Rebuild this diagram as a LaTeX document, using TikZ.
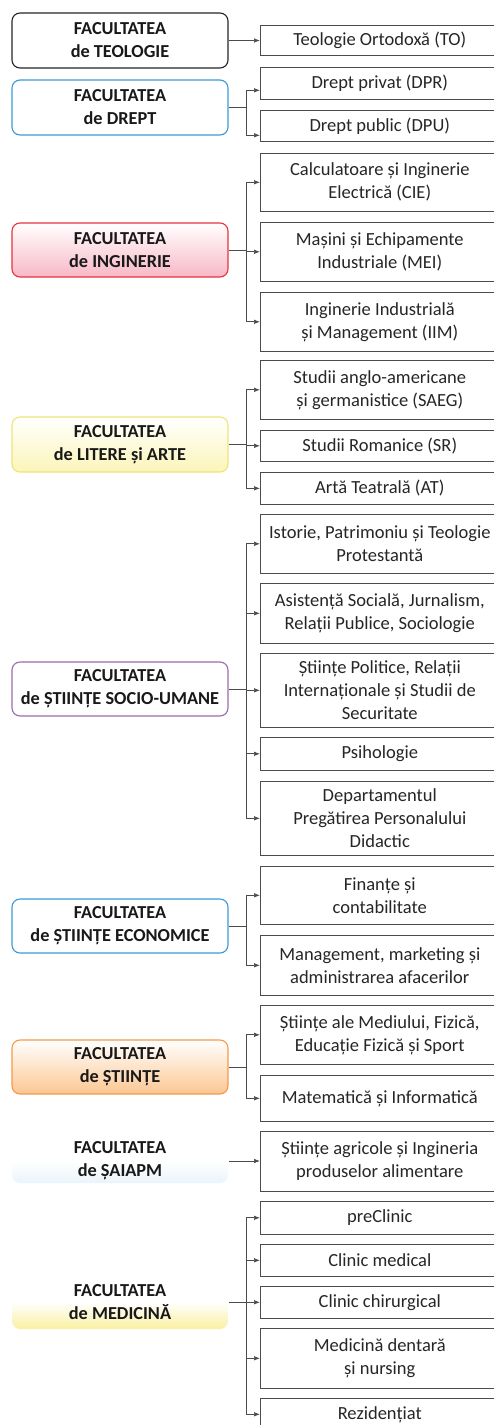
\documentclass[tikz,border=0pt]{standalone}
\usepackage{fontspec}
\setmainfont{Carlito}
\usetikzlibrary{arrows.meta}
\definecolor{cblue}{HTML}{3A9AD9}
\definecolor{cred}{HTML}{E8323C}
\definecolor{cpink}{HTML}{F7B8C6}
\definecolor{cyel}{HTML}{EEE47A}
\definecolor{cyelf}{HTML}{FBF5B8}
\definecolor{cpurp}{HTML}{9B6BB0}
\definecolor{corg}{HTML}{F39A4A}
\definecolor{corgf}{HTML}{FCC792}
\definecolor{cglow}{HTML}{EAF4FB}
\definecolor{cyglow}{HTML}{FAF0A0}
\begin{document}
\begin{tikzpicture}[x=1pt,y=-1pt,
  fac/.style={rounded corners=8pt, line width=1.1pt, minimum width=216pt,
    align=center, font=\bfseries\fontsize{18.3}{23}\selectfont, text=black!90, inner sep=0pt},
  prog/.style={draw=black!70, line width=0.6pt, anchor=north west, minimum width=239pt,
    align=center, font=\fontsize{18.5}{23}\selectfont, inner sep=0pt, text=black!85},
  conn/.style={draw=black!70, line width=0.7pt},
  arr/.style={conn, -{Latex[length=6pt,width=4.5pt]}}]
\useasboundingbox (0,0) rectangle (493,1425);
\fill[white] (0,0) rectangle (493,1425);
\coordinate (tx) at (246,0);

% ---------- faculties ----------
\node[fac, draw=black!85, minimum height=55pt] (teol) at (120,40.5) {FACULTATEA\\de TEOLOGIE};
\node[fac, draw=cblue, minimum height=55pt] (drept) at (120,107.5) {FACULTATEA\\de DREPT};
\node[fac, draw=cred, top color=white, bottom color=cpink, minimum height=54pt] (ing) at (120,250) {FACULTATEA\\de INGINERIE};
\node[fac, draw=cyel, top color=white, bottom color=cyelf, minimum height=55pt] (lit) at (120,444.5) {FACULTATEA\\de LITERE și ARTE};
\node[fac, draw=cpurp, minimum height=54pt] (soc) at (120,689) {FACULTATEA\\de ȘTIINȚE SOCIO-UMANE};
\node[fac, draw=cblue, minimum height=54pt] (eco) at (120,926) {FACULTATEA\\de ȘTIINȚE ECONOMICE};
\node[fac, draw=corg, top color=white, bottom color=corgf, minimum height=54pt] (sti) at (120,1067) {FACULTATEA\\de ȘTIINȚE};
\node[fac, top color=white, bottom color=cglow, middle color=white, minimum height=44pt] (sai) at (120,1161) {FACULTATEA\\de ȘAIAPM};
\node[fac, top color=white, bottom color=cyglow, middle color=white, minimum height=54pt] (medf) at (120,1302) {FACULTATEA\\de MEDICINĂ};

% ---------- programmes ----------
\node[prog, minimum height=30pt] (to) at (260,25) {Teologie Ortodoxă (TO)};
\node[prog, minimum height=32pt] (dpr) at (260,67) {Drept privat (DPR)};
\node[prog, minimum height=31pt] (dpu) at (260,110) {Drept public (DPU)};
\node[prog, minimum height=58pt] (cie) at (260,153) {Calculatoare și Inginerie\\Electrică (CIE)};
\node[prog, minimum height=59pt] (mei) at (260,222) {Mașini și Echipamente\\Industriale (MEI)};
\node[prog, minimum height=59pt] (iim) at (260,292) {Inginerie Industrială\\și Management (IIM)};
\node[prog, minimum height=59pt] (saeg) at (260,360) {Studii anglo-americane\\și germanistice (SAEG)};
\node[prog, minimum height=31pt] (sr) at (260,430) {Studii Romanice (SR)};
\node[prog, minimum height=32pt] (at) at (260,472) {Artă Teatrală (AT)};
\node[prog, minimum height=59pt] (ist) at (260,514) {Istorie, Patrimoniu și Teologie\\Protestantă};
\node[prog, minimum height=60pt] (asi) at (260,583) {Asistență Socială, Jurnalism,\\Relații Publice, Sociologie};
\node[prog, minimum height=74pt] (pol) at (260,653) {Științe Politice, Relații\\Internaționale și Studii de\\Securitate};
\node[prog, minimum height=33pt] (psi) at (260,737) {Psihologie};
\node[prog, minimum height=74pt] (dep) at (260,781) {Departamentul\\Pregătirea Personalului\\Didactic};
\node[prog, minimum height=58pt] (fin) at (260,866) {Finanțe și\\contabilitate};
\node[prog, minimum height=60pt] (mgm) at (260,935) {Management, marketing și\\administrarea afacerilor};
\node[prog, minimum height=59pt] (mfs) at (260,1005) {Științe ale Mediului, Fizică,\\Educație Fizică și Sport};
\node[prog, minimum height=46pt] (mat) at (260,1075) {Matematică și Informatică};
\node[prog, minimum height=60pt] (agr) at (260,1131) {Științe agricole și Ingineria\\produselor alimentare};
\node[prog, minimum height=33pt] (pre) at (260,1201) {preClinic};
\node[prog, minimum height=32pt] (cmed) at (260,1244) {Clinic medical};
\node[prog, minimum height=32pt] (cchi) at (260,1286) {Clinic chirurgical};
\node[prog, minimum height=60pt] (dent) at (260,1328) {Medicină dentară\\și nursing};
\node[prog, minimum height=32pt] (rez) at (260,1398) {Rezidențiat};

% ---------- connectors ----------
\draw[arr] (teol.east) -- (teol.east -| to.west);

\draw[conn] (drept.east) -- (tx |- drept.east);
\draw[conn] ([yshift=-7pt]tx |- dpr.west) -- ([yshift=-9.5pt]tx |- dpu.west);
\draw[arr] ([yshift=-7pt]tx |- dpr.west) -- ([yshift=-7pt]dpr.west);
\draw[arr] ([yshift=-9.5pt]tx |- dpu.west) -- ([yshift=-9.5pt]dpu.west);

\draw[conn] (ing.east) -- (tx |- ing.east);
\draw[conn] (tx |- cie.west) -- (tx |- iim.west);
\foreach \c in {cie,mei,iim} \draw[arr] (tx |- \c.west) -- (\c.west);

\draw[conn] (lit.east) -- (tx |- lit.east);
\draw[conn] (tx |- saeg.west) -- (tx |- at.west);
\foreach \c in {saeg,sr,at} \draw[arr] (tx |- \c.west) -- (\c.west);

\draw[conn] (soc.east) -- (tx |- soc.east);
\draw[conn] (tx |- ist.west) -- (tx |- dep.west);
\foreach \c in {ist,asi,pol,psi,dep} \draw[arr] (tx |- \c.west) -- (\c.west);

\draw[conn] (eco.east) -- (tx |- eco.east);
\draw[conn] (tx |- fin.west) -- (tx |- mgm.west);
\foreach \c in {fin,mgm} \draw[arr] (tx |- \c.west) -- (\c.west);

\draw[conn] (sti.east) -- (tx |- sti.east);
\draw[conn] (tx |- mfs.west) -- (tx |- mat.west);
\foreach \c in {mfs,mat} \draw[arr] (tx |- \c.west) -- (\c.west);

\draw[arr] (sai.east) -- (sai.east -| agr.west);

\draw[conn] (medf.east) -- (tx |- medf.east);
\draw[conn] (tx |- pre.west) -- (tx |- rez.west);
\foreach \c in {pre,cmed,cchi,dent,rez} \draw[arr] (tx |- \c.west) -- (\c.west);
\end{tikzpicture}
\end{document}
